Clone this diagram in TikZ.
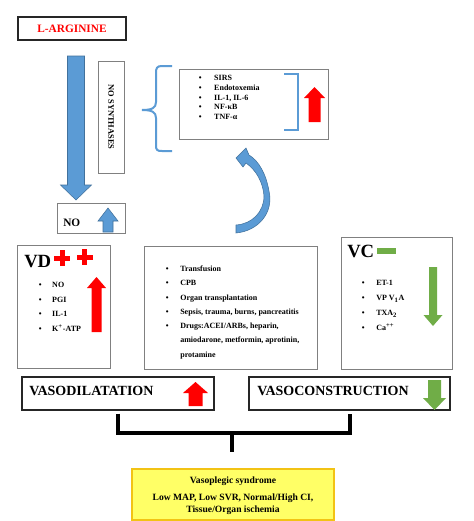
\documentclass[tikz,border=0pt]{standalone}
\usepackage{fontspec}
\setmainfont{Liberation Serif}
\usetikzlibrary{fit,calc}
\definecolor{oblue}{HTML}{5B9BD5}
\definecolor{oblueD}{HTML}{41719C}
\definecolor{ogreen}{HTML}{70AD47}
\definecolor{boxgray}{HTML}{808080}
\definecolor{ylw}{HTML}{FFFF66}
\definecolor{goldb}{HTML}{F2C314}
% style, cx, tip y, tail y, head half width, shaft half width, head base y
\newcommand{\blkarrow}[7]{\path[#1] ({#2-#6},#4) -- ({#2-#6},#7) -- ({#2-#5},#7) -- (#2,#3) -- ({#2+#5},#7) -- ({#2+#6},#7) -- ({#2+#6},#4) -- cycle;}
\begin{document}
\begin{tikzpicture}[x=0.75pt,y=-0.75pt,
  box/.style={draw=boxgray,line width=0.75pt,fill=white,inner sep=0pt},
  dbox/.style={draw=black!85,line width=1.1pt,fill=white,inner sep=0pt},
  txt/.style={font=\bfseries\fontsize{6}{7.3}\selectfont,inner sep=0pt},
  bluearr/.style={fill=oblue,draw=oblueD,line width=0.4pt},
  redarr/.style={fill=red},
  greenarr/.style={fill=ogreen},
  bluebr/.style={draw=oblue,line width=1.5pt},
  bk/.style={draw=black,line width=3pt},
]
\useasboundingbox (0,0) rectangle (474,521);
\fill[white] (0,0) rectangle (474,521);

% L-arginine
\node[dbox,fit={(18,17) (126,40)}] (arg) {};
\node[inner sep=0pt,text=red,font=\bfseries\fontsize{8.5}{10}\selectfont] (argtxt) at (arg.center) {L-ARGININE};
\blkarrow{bluearr}{76}{200}{56}{15.5}{8.5}{185}

% NO synthases
\node[box,fit={(98,61) (124,173)}] (nos) {};
\node[txt,rotate=-90,font=\bfseries\fontsize{6.3}{7.3}\selectfont] (nostxt) at (nos.center) {NO SYNTHASES};

% NO box
\node[box,fit={(57,203) (125,233)}] (nobox) {};
\node[txt,anchor=base west,font=\bfseries\fontsize{8.5}{10}\selectfont] (notxt) at (63,226) {NO};
\blkarrow{bluearr}{108}{208}{232}{10}{5}{221}

% brace
\draw[bluebr] (172,66) -- (162,66) .. controls (157,66) and (156,68) .. (156,73) -- (156,102)
  .. controls (156,108) and (152,110) .. (142,110)
  .. controls (152,110) and (156,112) .. (156,118) -- (156,145)
  .. controls (156,150) and (157,151) .. (162,151) -- (172,151);

% SIRS box
\node[box,fit={(179,69) (328,139)}] (sirs) {};
\node[txt,anchor=base west] (sirslist) at (198.5,80.6) {\begin{tabular}[t]{@{}l@{\hspace{9.5pt}}l@{}}
\textbullet & SIRS\\ \textbullet & Endotoxemia\\ \textbullet & IL-1, IL-6\\ \textbullet & NF-κB\\ \textbullet & TNF-α\end{tabular}};
\draw[draw=oblue,line width=1pt] (284,74) -- (298,74) -- (298,130) -- (284,130);
\blkarrow{redarr}{314.5}{87}{122}{10.5}{6}{98}

% curved arrow
\path[bluearr] (236,233) .. controls (258,231) and (274,213) .. (269,191)
  .. controls (266,174) and (259,161) .. (249,155) -- (246,148) -- (236,158) -- (243,167) -- (246,163)
  .. controls (256,170) and (263,182) .. (264,196)
  .. controls (264,212) and (252,224) .. (236,225) -- cycle;

% VD box
\node[box,fit={(17,245) (110,368)}] (vd) {};
\node[anchor=base west,inner sep=0pt,font=\bfseries\fontsize{14}{16}\selectfont] (vdt) at (24,267) {VD};
\fill[red] (54,255.5) rectangle (70,260.5);
\fill[red] (59.5,250) rectangle (64.5,266);
\fill[red] (76.5,254.5) rectangle (92.5,259.5);
\fill[red] (82,249) rectangle (87,265);
\node[txt,anchor=base west] (vdlist) at (38.5,287.6) {\fontsize{6}{11}\selectfont\begin{tabular}[t]{@{}l@{\hspace{8pt}}l@{}}
\textbullet & NO\\ \textbullet & PGI\\ \textbullet & IL-1\\ \textbullet & K\textsuperscript{+}-ATP\end{tabular}};
\blkarrow{redarr}{96.5}{277}{332}{9.5}{5}{288}

% middle box
\node[box,fit={(144,246) (317,369)}] (mid) {};
\node[txt,anchor=base west] (midlist) at (165.5,271.6) {\fontsize{6}{10.7}\selectfont\begin{tabular}[t]{@{}l@{\hspace{8.8pt}}l@{}}
\textbullet & Transfusion\\ \textbullet & CPB\\ \textbullet & Organ transplantation\\
\textbullet & Sepsis, trauma, burns, pancreatitis\\ \textbullet & Drugs:ACEI/ARBs, heparin,\\
 & amiodarone, metformin, aprotinin,\\ & protamine\end{tabular}};

% VC box
\node[box,fit={(341,237) (452,369)}] (vc) {};
\node[anchor=base west,inner sep=0pt,font=\bfseries\fontsize{14}{16}\selectfont] (vct) at (347,257) {VC};
\fill[ogreen] (377,248) rectangle (396,254);
\node[txt,anchor=base west] (vclist) at (361.5,285.6) {\fontsize{6}{11.25}\selectfont\begin{tabular}[t]{@{}l@{\hspace{8.8pt}}l@{}}
\textbullet & ET-1\\ \textbullet & VP V\textsubscript{1}A\\ \textbullet & TXA\textsubscript{2}\\ \textbullet & Ca\textsuperscript{++}\end{tabular}};
\blkarrow{greenarr}{433}{326}{267}{9.5}{4}{315}

% vasodilatation / vasoconstruction
\node[dbox,fit={(22,377) (214,410)}] (vdl) {};
\node[anchor=base west,inner sep=0pt,font=\bfseries\fontsize{10.5}{12}\selectfont] (vdltxt) at (29,395) {VASODILATATION};
\blkarrow{redarr}{195.5}{382}{406}{12.5}{7}{393}
\node[dbox,fit={(249,377) (450,410)}] (vcn) {};
\node[anchor=base west,inner sep=0pt,font=\bfseries\fontsize{10.5}{12}\selectfont] (vcntxt) at (257,395) {VASOCONSTRUCTION};
\blkarrow{greenarr}{434.5}{410}{380}{11.5}{6.5}{398}

% syndrome box
\node[draw=goldb,line width=1.5pt,fill=ylw,inner sep=0pt,fit={(132,469) (334,520)}] (syn) {};
\node[inner sep=0pt,align=center,font=\bfseries\fontsize{7.2}{9}\selectfont] (syntxt) at (233,496) {Vasoplegic syndrome\\[3.8pt] Low MAP, Low SVR, Normal/High CI,\\ Tissue/Organ ischemia};

% bracket connector
\coordinate (join) at (232,433);
\coordinate (stemend) at ($(join |- syn.north)+(0,-16)$);
\draw[bk] ($(vdl.south)+(0,3)$) |- (join) -| ($(vcn.south)+(0,3)$);
\draw[bk] (join) -- (stemend);
\end{tikzpicture}
\end{document}
